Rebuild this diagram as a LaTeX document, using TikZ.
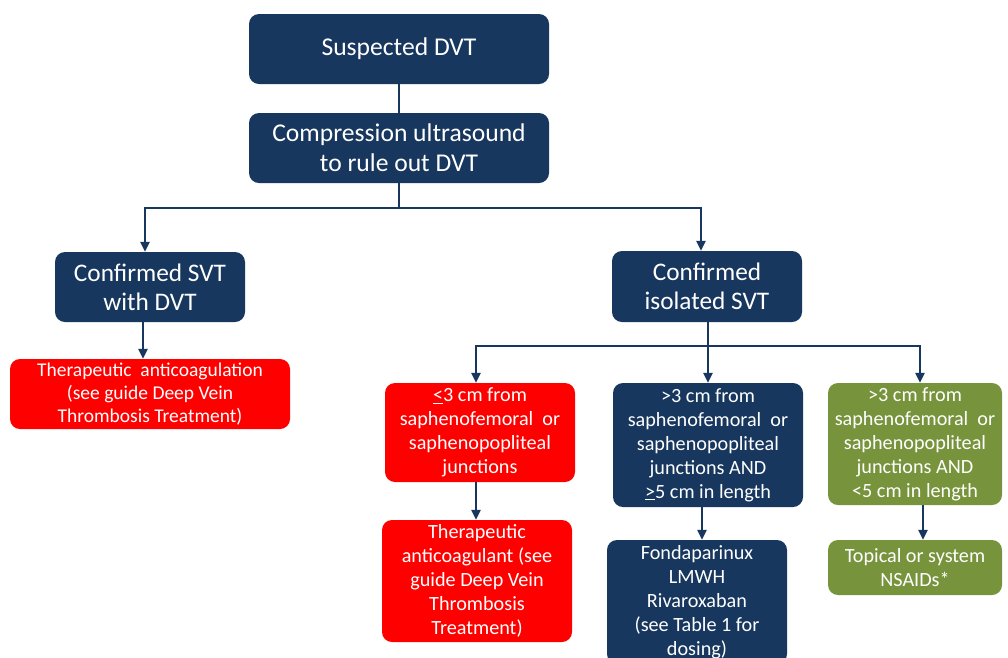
\documentclass[tikz,border=0pt]{standalone}
\usepackage{fontspec}
\setmainfont{Carlito}
\usetikzlibrary{arrows.meta}
\definecolor{navy}{RGB}{23,55,94}
\definecolor{redbox}{RGB}{255,0,0}
\definecolor{olive}{RGB}{119,147,60}
\begin{document}
\begin{tikzpicture}[x=1pt,y=-1pt,
  box/.style={rounded corners=10pt, text=white, align=center, inner sep=0pt, draw=none},
  big/.style={box, font=\fontsize{25.6}{30}\selectfont},
  mid/.style={box, font=\fontsize{25.3}{29}\selectfont},
  small/.style={box, font=\fontsize{20.2}{24}\selectfont},
  smalltight/.style={box, font=\fontsize{19.5}{23}\selectfont},
  nv/.style={fill=navy}, rd/.style={fill=redbox}, gr/.style={fill=olive},
  ln/.style={draw=navy, line width=2.8pt},
  arr/.style={ln, -{Triangle[length=10pt,width=9pt]}}]
\useasboundingbox (0,0) rectangle (1008,657);
\clip (0,0) rectangle (1008,657);
\fill[white] (0,0) rectangle (1008,657);
% top boxes
\node[big,nv,minimum width=300pt,minimum height=70pt] (s1) at (399,49) {Suspected DVT};
\node[big,nv,minimum width=300pt,minimum height=70pt] (s2) at (399,148) {Compression ultrasound\\to rule out DVT};
% second level
\node[mid,nv,minimum width=190pt,minimum height=70pt] (a) at (150,287) {Confirmed SVT\\with DVT};
\node[mid,nv,minimum width=190pt,minimum height=71pt] (b) at (707,286.5) {Confirmed\\isolated SVT};
% left red
\node[smalltight,rd,minimum width=280pt,minimum height=70pt] (rl) at (150,394) {Therapeutic\ \ anticoagulation\\(see guide Deep Vein\\Thrombosis Treatment)};
% third level
\node[small,rd,minimum width=190pt,minimum height=99pt] (r2) at (480,432.5) {\underline{<}3 cm from\\saphenofemoral\ \ or\\saphenopopliteal\\junctions};
\node[small,nv,minimum width=190pt,minimum height=124pt] (n3) at (708,445) {>3 cm from\\saphenofemoral\ \ or\\saphenopopliteal\\junctions AND\\\underline{>}5 cm in length};
\node[small,gr,minimum width=174pt,minimum height=122pt] (g3) at (915,444) {>3 cm from\\saphenofemoral\ \ or\\saphenopopliteal\\junctions AND\\<5 cm in length};
% fourth level
\node[small,rd,minimum width=190pt,minimum height=122pt] (r3) at (477,581) {Therapeutic\\anticoagulant (see\\guide Deep Vein\\Thrombosis\\Treatment)};
\node[small,nv,minimum width=180pt,minimum height=124pt] (n4) at (697,602) {Fondaparinux\\LMWH\\Rivaroxaban\\(see Table 1 for\\dosing)};
\node[small,gr,minimum width=174pt,minimum height=55pt] (g4) at (915,567.5) {Topical or system\\NSAIDs*};
% connectors
\draw[ln] (s1) -- (s2);
\coordinate (j1) at (399,208);
\coordinate (j2) at (708,346);
\draw[ln] (s2.south) -- (j1);
\draw[arr] (j1) -| ([xshift=-5pt]a.north);
\draw[arr] (j1) -| ([xshift=-6pt]b.north);
\draw[arr] ([xshift=-7pt]a.south) -- ([xshift=-7pt]rl.north);
\draw[ln] (b.south -| j2) -- (j2);
\draw[arr] (j2) -| ([xshift=-4pt]r2.north);
\draw[arr] (j2) -- (n3.north);
\draw[arr] (j2) -| ([xshift=5pt]g3.north);
\draw[arr] ([xshift=-4pt]r2.south) -- ([xshift=-1pt]r3.north);
\draw[arr] ([xshift=-6pt]n3.south) -- ([xshift=5pt]n4.north);
\draw[arr] ([xshift=8pt]g3.south) -- ([xshift=8pt]g4.north);
\end{tikzpicture}
\end{document}
